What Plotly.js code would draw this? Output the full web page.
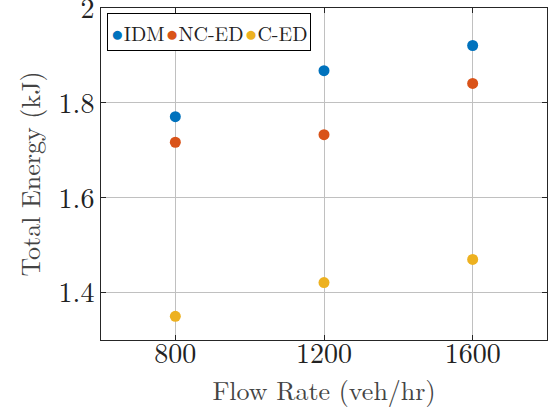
<!DOCTYPE html>
<html><head><meta charset="utf-8">
<script src="https://cdn.plot.ly/plotly-3.0.1.min.js"></script>
<style>html,body{margin:0;padding:0;background:#fff}#c{width:557px;height:414px}</style>
</head><body><div id="c"></div>
<script>
const flowRates = [800, 1200, 1600];
const idm = [1.771, 1.868, 1.921];
const ncEd = [1.717, 1.733, 1.841];
const cEd = [1.350, 1.421, 1.470];
const seriesNames = ['IDM', 'NC-ED', 'C-ED'];
const colors = ['#0072BD', '#D95319', '#EDB120'];
const xTicks = [800, 1200, 1600];
const yTicks = [1.4, 1.6, 1.8, 2.0];
const yTickText = ['1.4', '1.6', '1.8', '2'];

const font = 'Latin Modern Roman, CMU Serif, Liberation Serif, serif';
const data = [idm, ncEd, cEd].map((ys, i) => ({
  x: flowRates, y: ys, type: 'scatter', mode: 'markers', name: seriesNames[i],
  marker: {color: colors[i], size: 11}, showlegend: false
}));
const legendText = seriesNames.map((n, i) =>
  '<span style="color:' + colors[i] + ';font-size:21px">●</span>' + n).join('&#8202;');
const axisCommon = {
  showline: true, linecolor: '#262626', linewidth: 1, mirror: 'ticks',
  ticks: 'inside', ticklen: 5, tickcolor: '#262626',
  showgrid: true, gridcolor: '#c0c0c0', gridwidth: 1, zeroline: false,
  ticklabeloverflow: 'allow',
  tickfont: {family: font, size: 28, color: '#222'}
};
const layout = {
  width: 557, height: 414,
  margin: {l: 101, r: 10, t: 8, b: 74},
  paper_bgcolor: '#fff', plot_bgcolor: '#fff',
  showlegend: false,
  annotations: [{xref: 'paper', yref: 'paper', x: 0.013, y: 0.985, xanchor: 'left', yanchor: 'top',
    text: legendText, showarrow: false, align: 'left',
    font: {family: font, size: 20, color: '#222'},
    bordercolor: '#000', borderwidth: 1, borderpad: 3, bgcolor: '#fff'}],
  xaxis: Object.assign({}, axisCommon, {range: [600, 1800], tickvals: xTicks, ticklabelstandoff: -12,
    title: {text: 'Flow Rate (veh/hr)', font: {family: font, size: 26, color: '#444'}, standoff: 5}}),
  yaxis: Object.assign({}, axisCommon, {range: [1.3, 2.0001], tickvals: yTicks, ticktext: yTickText,
    title: {text: 'Total Energy (kJ)', font: {family: font, size: 26, color: '#444'}, standoff: 10}})
};
Plotly.newPlot('c', data, layout, {staticPlot: true, displayModeBar: false});
</script></body></html>
